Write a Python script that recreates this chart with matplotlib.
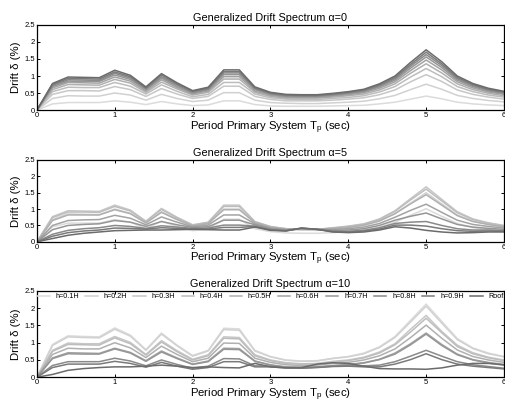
import matplotlib
matplotlib.use("Agg")
import matplotlib.pyplot as plt

plt.rcParams['font.family'] = ['Liberation Sans', 'DejaVu Sans']
plt.rcParams['mathtext.default'] = 'regular'

# period of the primary system (sec)
periods = [0.0, 0.2, 0.4, 0.6, 0.8, 1.0, 1.2, 1.4, 1.6, 1.8, 2.0, 2.2, 2.4, 2.6,
           2.8, 3.0, 3.2, 3.4, 3.6, 3.8, 4.0, 4.2, 4.4, 4.6, 4.8, 5.0, 5.2, 5.4,
           5.6, 5.8, 6.0]

heights = ['h=0.1H', 'h=0.2H', 'h=0.3H', 'h=0.4H', 'h=0.5H',
           'h=0.6H', 'h=0.7H', 'h=0.8H', 'h=0.9H', 'Roof']

alphas = [0, 5, 10]

# drift (%) for alpha = 0, one row per height (0.1H ... Roof)
drift_a0 = [
    [0, 0.18, 0.22, 0.22, 0.22, 0.27, 0.23, 0.16, 0.25, 0.18, 0.13, 0.15, 0.27, 0.27, 0.16, 0.12,
     0.11, 0.11, 0.11, 0.12, 0.13, 0.14, 0.18, 0.23, 0.32, 0.41, 0.33, 0.23, 0.18, 0.15, 0.13],
    [0, 0.34, 0.42, 0.41, 0.41, 0.50, 0.44, 0.29, 0.46, 0.34, 0.25, 0.29, 0.51, 0.51, 0.29, 0.22,
     0.20, 0.19, 0.19, 0.21, 0.23, 0.26, 0.33, 0.43, 0.60, 0.76, 0.61, 0.43, 0.34, 0.28, 0.24],
    [0, 0.46, 0.57, 0.57, 0.56, 0.69, 0.60, 0.40, 0.63, 0.47, 0.34, 0.40, 0.70, 0.70, 0.40, 0.31,
     0.27, 0.27, 0.27, 0.29, 0.32, 0.36, 0.45, 0.59, 0.83, 1.04, 0.84, 0.59, 0.46, 0.38, 0.32],
    [0, 0.54, 0.67, 0.66, 0.66, 0.81, 0.70, 0.47, 0.74, 0.55, 0.39, 0.46, 0.81, 0.81, 0.47, 0.36,
     0.32, 0.31, 0.31, 0.34, 0.37, 0.42, 0.53, 0.69, 0.97, 1.22, 0.98, 0.69, 0.54, 0.44, 0.38],
    [0, 0.60, 0.75, 0.74, 0.73, 0.90, 0.79, 0.52, 0.82, 0.62, 0.44, 0.52, 0.91, 0.91, 0.52, 0.40,
     0.35, 0.35, 0.35, 0.38, 0.42, 0.47, 0.59, 0.77, 1.08, 1.36, 1.09, 0.77, 0.60, 0.49, 0.42],
    [0, 0.65, 0.81, 0.80, 0.79, 0.97, 0.85, 0.56, 0.89, 0.66, 0.47, 0.56, 0.98, 0.98, 0.56, 0.43,
     0.38, 0.37, 0.37, 0.41, 0.45, 0.51, 0.64, 0.83, 1.16, 1.47, 1.18, 0.83, 0.65, 0.53, 0.46],
    [0, 0.69, 0.85, 0.84, 0.84, 1.03, 0.90, 0.60, 0.94, 0.70, 0.50, 0.59, 1.04, 1.04, 0.60, 0.46,
     0.40, 0.40, 0.40, 0.43, 0.48, 0.54, 0.68, 0.88, 1.23, 1.56, 1.25, 0.88, 0.69, 0.56, 0.48],
    [0, 0.72, 0.89, 0.88, 0.87, 1.08, 0.94, 0.63, 0.98, 0.74, 0.52, 0.62, 1.09, 1.09, 0.63, 0.48,
     0.42, 0.41, 0.41, 0.45, 0.50, 0.56, 0.71, 0.92, 1.29, 1.63, 1.31, 0.92, 0.72, 0.59, 0.51],
    [0, 0.75, 0.93, 0.92, 0.91, 1.12, 0.98, 0.65, 1.03, 0.77, 0.55, 0.64, 1.13, 1.13, 0.65, 0.50,
     0.44, 0.43, 0.43, 0.47, 0.52, 0.59, 0.74, 0.96, 1.34, 1.70, 1.36, 0.96, 0.75, 0.61, 0.53],
    [0, 0.78, 0.97, 0.96, 0.95, 1.17, 1.02, 0.68, 1.07, 0.80, 0.57, 0.67, 1.18, 1.18, 0.68, 0.52,
     0.46, 0.45, 0.45, 0.49, 0.54, 0.61, 0.77, 1.00, 1.40, 1.77, 1.42, 1.00, 0.78, 0.64, 0.55],
]

# drift (%) for alpha = 5
drift_a5 = [
    [0, 0.46, 0.57, 0.57, 0.57, 0.68, 0.60, 0.40, 0.63, 0.47, 0.34, 0.39, 0.69, 0.69, 0.40, 0.31,
     0.27, 0.26, 0.26, 0.28, 0.31, 0.35, 0.44, 0.60, 0.81, 1.01, 0.78, 0.56, 0.43, 0.37, 0.32],
    [0, 0.68, 0.85, 0.84, 0.83, 1.00, 0.87, 0.57, 0.92, 0.68, 0.48, 0.55, 1.00, 1.00, 0.57, 0.43,
     0.37, 0.36, 0.35, 0.39, 0.44, 0.50, 0.63, 0.86, 1.18, 1.50, 1.16, 0.82, 0.63, 0.53, 0.46],
    [0, 0.77, 0.95, 0.94, 0.93, 1.12, 0.97, 0.63, 1.02, 0.75, 0.52, 0.60, 1.12, 1.12, 0.62, 0.47,
     0.40, 0.38, 0.38, 0.43, 0.48, 0.55, 0.70, 0.95, 1.32, 1.68, 1.30, 0.92, 0.70, 0.58, 0.50],
    [0, 0.74, 0.91, 0.91, 0.90, 1.08, 0.94, 0.62, 0.99, 0.73, 0.51, 0.59, 1.08, 1.08, 0.61, 0.46,
     0.40, 0.38, 0.38, 0.42, 0.47, 0.54, 0.68, 0.93, 1.28, 1.61, 1.25, 0.89, 0.68, 0.57, 0.49],
    [0, 0.65, 0.82, 0.82, 0.82, 0.98, 0.86, 0.58, 0.90, 0.68, 0.49, 0.56, 0.98, 0.98, 0.59, 0.45,
     0.39, 0.39, 0.38, 0.41, 0.44, 0.51, 0.64, 0.86, 1.16, 1.44, 1.12, 0.80, 0.62, 0.53, 0.46],
    [0, 0.50, 0.65, 0.67, 0.68, 0.81, 0.72, 0.52, 0.76, 0.60, 0.46, 0.51, 0.82, 0.82, 0.55, 0.42,
     0.37, 0.40, 0.38, 0.38, 0.40, 0.45, 0.56, 0.75, 0.96, 1.15, 0.90, 0.66, 0.53, 0.47, 0.42],
    [0, 0.37, 0.50, 0.53, 0.55, 0.65, 0.60, 0.47, 0.62, 0.52, 0.44, 0.46, 0.66, 0.66, 0.52, 0.40,
     0.36, 0.40, 0.38, 0.35, 0.36, 0.40, 0.50, 0.66, 0.78, 0.88, 0.70, 0.53, 0.45, 0.41, 0.38],
    [0, 0.23, 0.35, 0.40, 0.43, 0.50, 0.47, 0.41, 0.49, 0.45, 0.41, 0.42, 0.51, 0.51, 0.48, 0.37,
     0.34, 0.41, 0.38, 0.33, 0.32, 0.35, 0.43, 0.56, 0.60, 0.62, 0.50, 0.40, 0.36, 0.36, 0.34],
    [0, 0.17, 0.28, 0.33, 0.36, 0.42, 0.41, 0.39, 0.43, 0.41, 0.39, 0.39, 0.44, 0.44, 0.47, 0.36,
     0.34, 0.42, 0.38, 0.31, 0.30, 0.33, 0.39, 0.51, 0.51, 0.48, 0.40, 0.34, 0.32, 0.33, 0.32],
    [0, 0.10, 0.20, 0.26, 0.30, 0.34, 0.35, 0.36, 0.36, 0.37, 0.38, 0.37, 0.36, 0.36, 0.45, 0.35,
     0.33, 0.42, 0.38, 0.30, 0.28, 0.30, 0.36, 0.46, 0.42, 0.35, 0.30, 0.27, 0.28, 0.30, 0.30],
]

# drift (%) for alpha = 10
drift_a10 = [
    [0, 0.95, 1.20, 1.18, 1.17, 1.43, 1.22, 0.80, 1.28, 0.93, 0.63, 0.78, 1.42, 1.40, 0.78, 0.60,
     0.50, 0.47, 0.48, 0.55, 0.60, 0.70, 0.88, 1.18, 1.65, 2.12, 1.62, 1.12, 0.85, 0.70, 0.60],
    [0, 0.92, 1.17, 1.15, 1.14, 1.39, 1.19, 0.78, 1.25, 0.91, 0.61, 0.76, 1.38, 1.36, 0.76, 0.59,
     0.49, 0.46, 0.47, 0.54, 0.59, 0.68, 0.86, 1.15, 1.60, 2.06, 1.57, 1.09, 0.83, 0.68, 0.59],
    [0, 0.78, 0.99, 0.97, 0.97, 1.18, 1.01, 0.66, 1.06, 0.77, 0.52, 0.65, 1.17, 1.15, 0.65, 0.50,
     0.42, 0.39, 0.40, 0.46, 0.50, 0.58, 0.73, 0.97, 1.39, 1.79, 1.33, 0.93, 0.71, 0.58, 0.50],
    [0, 0.75, 0.95, 0.94, 0.93, 1.14, 0.97, 0.64, 1.02, 0.74, 0.50, 0.62, 1.13, 1.11, 0.62, 0.48,
     0.40, 0.38, 0.39, 0.44, 0.48, 0.56, 0.70, 0.94, 1.31, 1.71, 1.29, 0.89, 0.68, 0.56, 0.48],
    [0, 0.66, 0.84, 0.82, 0.82, 1.00, 0.85, 0.57, 0.90, 0.66, 0.45, 0.55, 0.99, 0.98, 0.55, 0.43,
     0.36, 0.34, 0.35, 0.40, 0.43, 0.50, 0.62, 0.82, 1.15, 1.51, 1.13, 0.79, 0.60, 0.50, 0.43],
    [0, 0.56, 0.71, 0.70, 0.69, 0.84, 0.72, 0.48, 0.76, 0.56, 0.38, 0.47, 0.84, 0.83, 0.47, 0.36,
     0.30, 0.29, 0.30, 0.34, 0.37, 0.42, 0.52, 0.70, 0.97, 1.28, 0.95, 0.67, 0.51, 0.43, 0.37],
    [0, 0.54, 0.68, 0.67, 0.67, 0.82, 0.70, 0.46, 0.73, 0.54, 0.37, 0.45, 0.81, 0.80, 0.46, 0.35,
     0.29, 0.28, 0.29, 0.33, 0.36, 0.41, 0.51, 0.67, 0.94, 1.25, 0.92, 0.65, 0.50, 0.41, 0.35],
    [0, 0.34, 0.45, 0.45, 0.45, 0.55, 0.47, 0.33, 0.50, 0.37, 0.26, 0.32, 0.54, 0.53, 0.33, 0.32,
     0.28, 0.27, 0.29, 0.32, 0.33, 0.33, 0.35, 0.45, 0.61, 0.78, 0.61, 0.45, 0.36, 0.31, 0.26],
    [0, 0.28, 0.38, 0.38, 0.38, 0.46, 0.40, 0.29, 0.43, 0.32, 0.23, 0.28, 0.45, 0.45, 0.30, 0.30,
     0.27, 0.26, 0.28, 0.31, 0.32, 0.30, 0.30, 0.38, 0.51, 0.68, 0.51, 0.38, 0.32, 0.28, 0.24],
    [0, 0.08, 0.20, 0.25, 0.28, 0.30, 0.30, 0.32, 0.35, 0.32, 0.28, 0.30, 0.28, 0.27, 0.40, 0.30,
     0.27, 0.28, 0.38, 0.42, 0.40, 0.32, 0.25, 0.24, 0.24, 0.23, 0.27, 0.35, 0.40, 0.40, 0.36],
]

grays = ['0.86', '0.82', '0.78', '0.74', '0.69', '0.64', '0.59', '0.54', '0.48', '0.42']

fig = plt.figure(figsize=(5.06, 4.03), dpi=100)
boxes = [[0.073, 0.727, 0.923, 0.211],
         [0.073, 0.400, 0.923, 0.203],
         [0.073, 0.064, 0.923, 0.214]]

for alpha, rows, box in zip(alphas, [drift_a0, drift_a5, drift_a10], boxes):
    ax = fig.add_axes(box)
    for row, label, c in zip(rows, heights, grays):
        ax.plot(periods, row, color=c, lw=1.1, label=label)
    ax.set_xlim(0, 6)
    ax.set_ylim(0, 2.5)
    ax.set_xticks([0, 1, 2, 3, 4, 5, 6])
    ax.set_yticks([0, 0.5, 1, 1.5, 2, 2.5])
    ax.set_yticklabels(['0', '0.5', '1', '1.5', '2', '2.5'])
    ax.tick_params(direction='in', top=True, right=True, length=2.5, width=0.7,
                   labelsize=5.5, pad=1.5)
    for s in ax.spines.values():
        s.set_linewidth(0.9)
    ax.set_title(f'Generalized Drift Spectrum \u03b1={alpha}', fontsize=7.8, pad=3)
    ax.set_xlabel('Period Primary System $T_p$ (sec)', fontsize=8.2, labelpad=0)
    ax.set_ylabel('Drift \u03b4 (%)', fontsize=8.2, labelpad=2)
    if alpha == 10:
        ax.legend(loc='upper center', bbox_to_anchor=(0.5, 1.0), ncol=10,
                  frameon=False, fontsize=5.2, handlelength=1.7, handletextpad=0.8,
                  columnspacing=0.9, borderaxespad=0.1, borderpad=0.2)

fig.savefig('out.png', dpi=100)
